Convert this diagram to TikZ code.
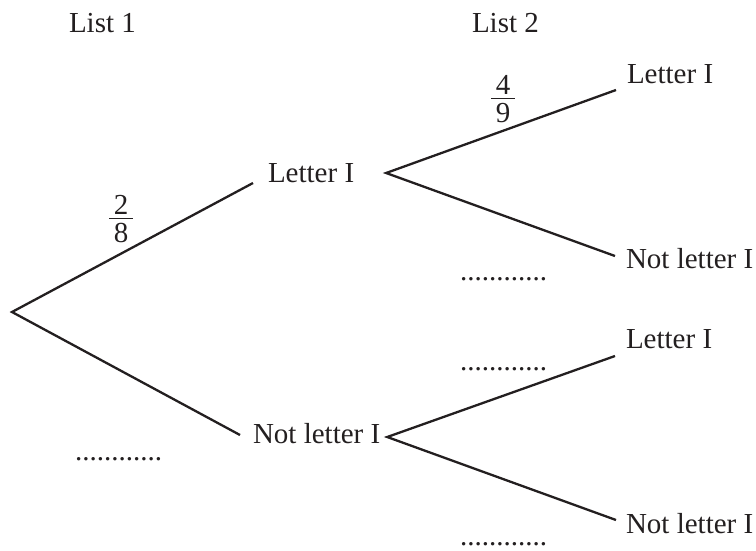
\documentclass[tikz,border=0pt]{standalone}
\usepackage{fontspec}
\setmainfont{Liberation Serif}
\definecolor{ink}{RGB}{35,31,32}
\newcommand\myfr[2]{\vbox{\hsize=24pt\offinterlineskip\hbox to\hsize{\hss#1\hss}\vskip3pt\hrule height1.6pt\vskip3.5pt\hbox to\hsize{\hss#2\hss}}}
\begin{document}
\begin{tikzpicture}[x=1pt,y=-1pt,
  lbl/.style={inner sep=0pt,outer sep=0pt,anchor=base west,text=ink,font=\fontsize{29}{34}\selectfont},
  frc/.style={inner sep=0pt,text=ink,font=\fontsize{29}{34}\selectfont},
  branch/.style={draw=ink,line width=2.3pt}]
\useasboundingbox (0,0) rectangle (756,550);
\coordinate (root) at (12,312);
\node[lbl] (list1) at (69,32) {List 1};
\node[lbl] (list2) at (472,32) {List 2};
\node[lbl] (L1) at (268,182) {Letter I};
\node[lbl] (N1) at (253,443) {Not letter I};
\node[lbl] (LL) at (627,83) {Letter I};
\node[lbl] (LN) at (626,268) {Not letter I};
\node[lbl] (NL) at (626,348) {Letter I};
\node[lbl] (NN) at (626,533) {Not letter I};
\node[frc] (f1) at (121,219) {\myfr{2}{8}};
\node[frc] (f2) at (503,99) {\myfr{4}{9}};
\node[lbl] (d1) at (75,460) {............};
\node[lbl] (d2) at (460,280) {............};
\node[lbl] (d3) at (460,370) {............};
\node[lbl] (d4) at (460,545) {............};
\draw[branch,line join=miter] ([xshift=-15pt,yshift=-1pt]L1.base west) -- (root) -- ([xshift=-13pt,yshift=8pt]N1.base west);
\draw[branch] ([xshift=-11pt,yshift=-7pt]LL.base west) -- ([xshift=32pt,yshift=9pt]L1.base east) -- ([xshift=-11pt,yshift=12pt]LN.base west);
\draw[branch] ([xshift=-11pt,yshift=-8pt]NL.base west) -- ([xshift=7pt,yshift=6pt]N1.base east) -- ([xshift=-10pt,yshift=13pt]NN.base west);
\end{tikzpicture}
\end{document}
